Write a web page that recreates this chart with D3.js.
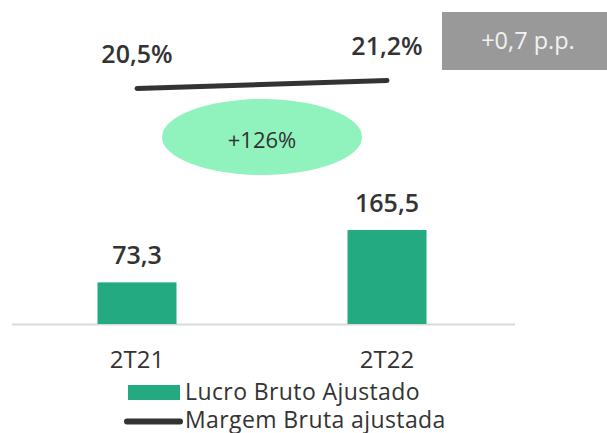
<!DOCTYPE html>
<html><head><meta charset="utf-8">
<script src="https://cdn.jsdelivr.net/npm/d3@7"></script>
<style>body{margin:0;background:#fff}svg{display:block}text{font-family:"Open Sans",sans-serif;fill:#333}</style>
</head><body>
<svg id="c" width="607" height="433"></svg>
<script>
const categories = ["2T21", "2T22"];
const lucroBruto = [73.3, 165.5];
const lucroLabels = ["73,3", "165,5"];
const margem = [20.5, 21.2];
const margemLabels = ["20,5%", "21,2%"];
const growthLabel = "+126%";
const marginDelta = "+0,7 p.p.";
const seriesNames = ["Lucro Bruto Ajustado", "Margem Bruta ajustada"];

const svg = d3.select("#c");
const x = d3.scalePoint().domain(categories).range([12, 512]).padding(0.5);
const barW = 79;
const y = d3.scaleLinear().domain([0, 165.5]).range([324, 230]);
const ym = d3.scaleLinear().domain([20.5, 21.2]).range([88.5, 80.5]);

// baseline
svg.append("line").attr("x1", 12).attr("x2", 515).attr("y1", 324.5).attr("y2", 324.5)
  .attr("stroke", "#d9d9d9").attr("stroke-width", 2);

svg.selectAll("rect.bar").data(lucroBruto).enter().append("rect")
  .attr("class", "bar")
  .attr("x", (d, i) => x(categories[i]) - barW / 2)
  .attr("width", barW)
  .attr("y", d => y(d))
  .attr("height", d => y(0) - y(d))
  .attr("fill", "#23aa80");

svg.selectAll("text.bl").data(lucroBruto).enter().append("text")
  .attr("class", "bl")
  .attr("x", (d, i) => x(categories[i]))
  .attr("y", d => y(d) - 18)
  .attr("text-anchor", "middle").attr("font-size", 25).attr("font-weight", 600)
  .text((d, i) => lucroLabels[i]);

svg.selectAll("text.cat").data(categories).enter().append("text")
  .attr("class", "cat")
  .attr("x", d => x(d)).attr("y", 368)
  .attr("text-anchor", "middle").attr("font-size", 24)
  .text(d => d);

// margin line
const line = d3.line().x((d, i) => x(categories[i])).y(d => ym(d));
svg.append("path").datum(margem).attr("d", line)
  .attr("fill", "none").attr("stroke", "#333").attr("stroke-width", 5).attr("stroke-linecap", "round");

svg.selectAll("text.ml").data(margem).enter().append("text")
  .attr("class", "ml")
  .attr("x", (d, i) => x(categories[i]))
  .attr("y", d => ym(d) - 25.5)
  .attr("text-anchor", "middle").attr("font-size", 25).attr("font-weight", 600)
  .text((d, i) => margemLabels[i]);

// growth ellipse
const cx = (x(categories[0]) + x(categories[1])) / 2;
svg.append("ellipse").attr("cx", cx).attr("cy", 137).attr("rx", 100).attr("ry", 38).attr("fill", "#90f2bd");
svg.append("text").attr("x", cx).attr("y", 148).attr("text-anchor", "middle").attr("font-size", 22).text(growthLabel);

// delta box
svg.append("rect").attr("x", 442).attr("y", 12).attr("width", 165).attr("height", 58).attr("fill", "#999999");
svg.append("text").attr("x", 528).attr("y", 49).attr("text-anchor", "middle").attr("font-size", 23.5)
  .style("fill", "#f2f2f2").text(marginDelta);

// legend
svg.append("rect").attr("x", 128).attr("y", 385).attr("width", 52).attr("height", 15).attr("fill", "#23aa80");
svg.append("text").attr("x", 185).attr("y", 400).attr("font-size", 23).attr("letter-spacing", 0.4).text(seriesNames[0]);
svg.append("line").attr("x1", 127).attr("x2", 180).attr("y1", 421.5).attr("y2", 421.5)
  .attr("stroke", "#333").attr("stroke-width", 6).attr("stroke-linecap", "round");
svg.append("text").attr("x", 185).attr("y", 428).attr("font-size", 23).attr("letter-spacing", 0.4).text(seriesNames[1]);
</script>
</body></html>
